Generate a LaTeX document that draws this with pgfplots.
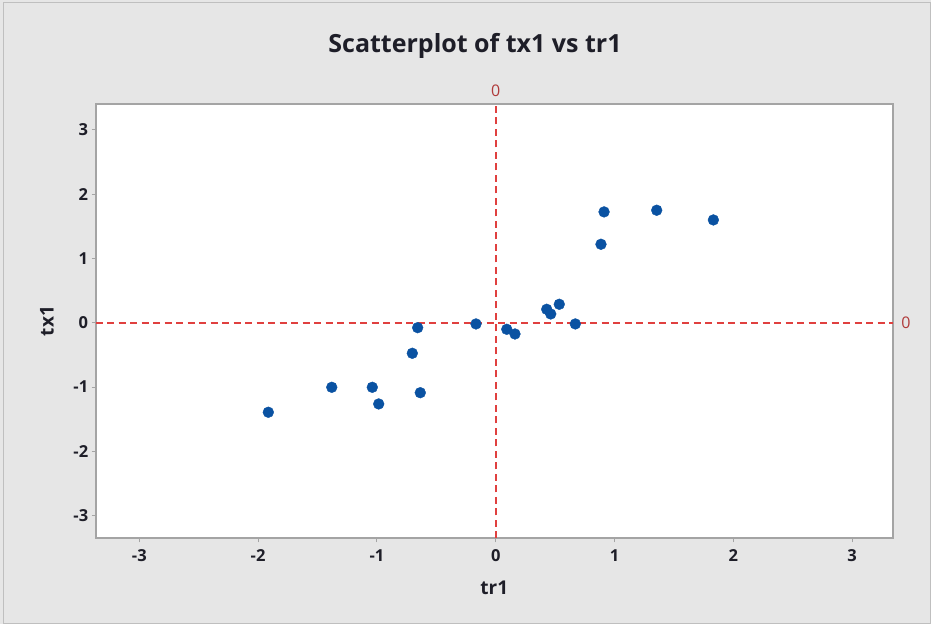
\documentclass[border=0pt]{standalone}
\usepackage{pgfplots}
\pgfplotsset{compat=1.18}
\usepackage{fontspec}
\setmainfont{Open Sans}
\definecolor{bg}{HTML}{E6E6E6}
\definecolor{frame}{HTML}{A4A4A4}
\definecolor{refred}{HTML}{E0403F}
\definecolor{reflab}{HTML}{B03A3A}
\definecolor{dot}{HTML}{0A52A2}
\definecolor{txt}{HTML}{1E1E28}
\begin{document}
\begin{tikzpicture}[x=1pt,y=1pt]
\fill[bg] (0,0) rectangle (931,624);
\draw[black!25, line width=1pt] (3,1) rectangle (930,621);
\node[font=\fontsize{25}{30}\selectfont\bfseries, text=txt] at (475,578) {Scatterplot of tx1 vs tr1};
\begin{axis}[
  at={(95.7pt,85.7pt)}, anchor=south west,
  scale only axis, width=797.3pt, height=434.3pt,
  xmin=-3.367, xmax=3.344, ymin=-3.353, ymax=3.40,
  xtick={-3,-2,-1,0,1,2,3}, ytick={-3,-2,-1,0,1,2,3},
  xtick pos=lower, ytick pos=left,
  axis line style={frame, line width=1.8pt},
  tick style={frame, line width=0.9pt},
  tick align=outside, major tick length=4pt,
  /pgf/number format/assume math mode=true,
  tick label style={font=\fontsize{16.5}{19}\selectfont\bfseries, text=txt},
  xticklabel style={yshift=-4pt},
  xlabel={tr1}, ylabel={tx1},
  label style={font=\fontsize{19}{22}\selectfont\bfseries, text=txt},
  xlabel style={at={(axis description cs:0.5,-0.1151)}, anchor=center},
  ylabel style={at={(axis description cs:-0.0611,0.5)}, anchor=center},
  axis background/.style={fill=white},
  clip mode=individual,
]
\addplot[refred, line width=2pt, dash pattern=on 7pt off 4.5pt, forget plot] coordinates {(0,-3.353) (0,3.40)};
\addplot[refred, line width=2pt, dash pattern=on 7pt off 4.5pt, forget plot] coordinates {(-3.367,0) (3.344,0)};
\addplot[only marks, mark=*, mark size=5.4pt, mark options={draw=dot, fill=dot}] table {
x y
-1.914 -1.393
-1.380 -1.005
-1.039 -1.005
-0.985 -1.264
-0.702 -0.476
-0.657 -0.078
-0.635 -1.089
-0.166 -0.020
0.093 -0.103
0.162 -0.176
0.429 0.208
0.463 0.135
0.535 0.286
0.670 -0.020
0.886 1.219
0.912 1.722
1.355 1.748
1.832 1.597
};
\node[text=reflab, font=\fontsize{16}{19}\selectfont, anchor=center] at (axis cs:0,3.40) [yshift=13pt] {0};
\node[text=reflab, font=\fontsize{16}{19}\selectfont, anchor=center] at (axis cs:3.344,0) [xshift=13pt] {0};
\end{axis}
\end{tikzpicture}
\end{document}
